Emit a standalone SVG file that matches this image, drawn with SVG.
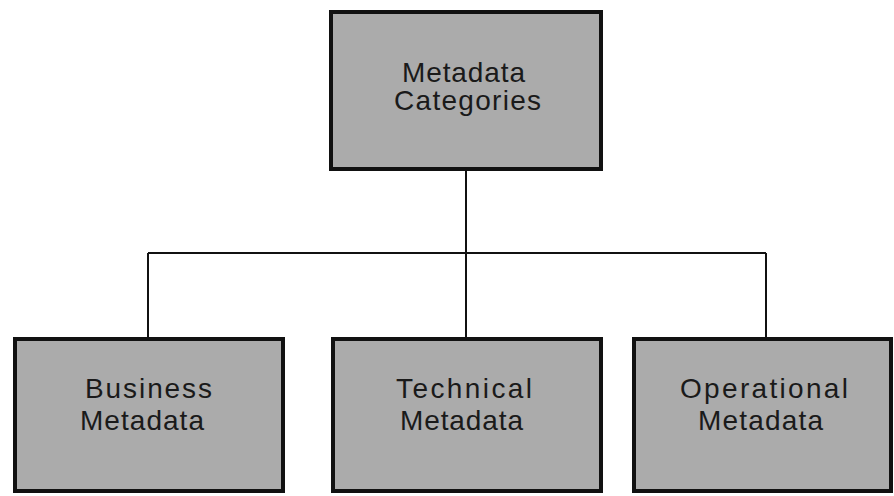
<svg xmlns="http://www.w3.org/2000/svg" width="894" height="496" viewBox="0 0 894 496">
  <style>
    .box { fill: #ababab; stroke: #111111; stroke-width: 4; }
    .wire { fill: none; stroke: #111111; stroke-width: 2; }
    .label { font-family: "Liberation Sans", Arial, sans-serif; font-size: 28px; fill: #1a1a1a; text-anchor: start; }
  </style>
  <rect width="894" height="496" fill="#ffffff"/>

  <g id="connectors">
    <path class="wire" d="M466 171 V337"/>
    <path class="wire" d="M148 253 H766"/>
    <path class="wire" d="M148 253 V337"/>
    <path class="wire" d="M766 253 V337"/>
  </g>

  <g id="metadata-categories">
    <rect class="box" x="331" y="12" width="270" height="157"/>
    <text class="label" x="402" y="82" textLength="123" lengthAdjust="spacing">Metadata</text>
    <text class="label" x="394" y="110" textLength="147" lengthAdjust="spacing">Categories</text>
  </g>

  <g id="business-metadata">
    <rect class="box" x="15" y="339" width="268" height="152"/>
    <text class="label" x="85" y="398" textLength="127" lengthAdjust="spacing">Business</text>
    <text class="label" x="80" y="430" textLength="124" lengthAdjust="spacing">Metadata</text>
  </g>

  <g id="technical-metadata">
    <rect class="box" x="333" y="339" width="268" height="152"/>
    <text class="label" x="396" y="398" textLength="136" lengthAdjust="spacing">Technical</text>
    <text class="label" x="400" y="430" textLength="123" lengthAdjust="spacing">Metadata</text>
  </g>

  <g id="operational-metadata">
    <rect class="box" x="634" y="339" width="257" height="152"/>
    <text class="label" x="680" y="398" textLength="168" lengthAdjust="spacing">Operational</text>
    <text class="label" x="698" y="430" textLength="125" lengthAdjust="spacing">Metadata</text>
  </g>
</svg>
